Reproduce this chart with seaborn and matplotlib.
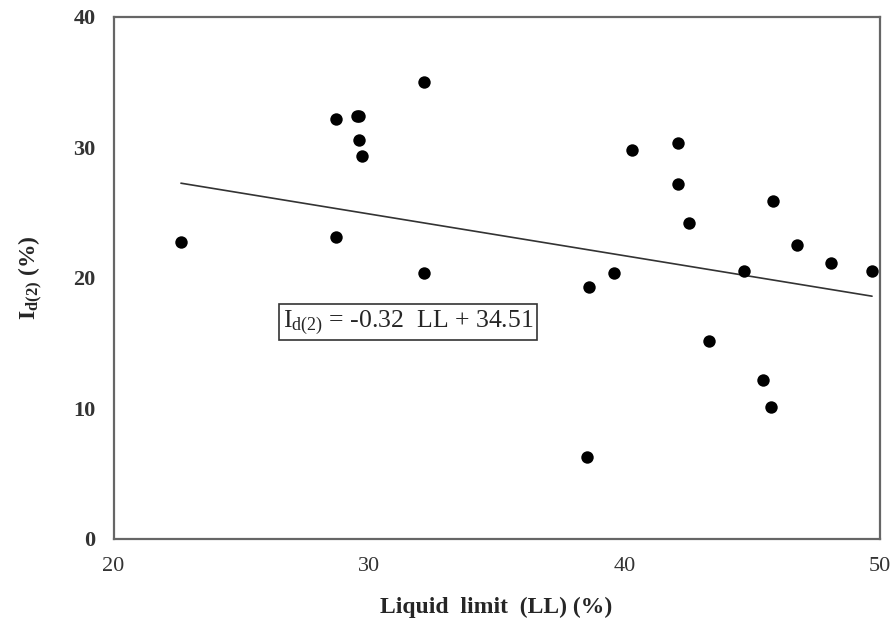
import numpy as np
import pandas as pd
import matplotlib
matplotlib.use('Agg')
import matplotlib.pyplot as plt
import seaborn as sns

# values
liquid_limit = [22.64, 28.72, 28.72, 29.52, 29.62, 29.61, 29.74, 32.14, 32.14,
                38.55, 38.60, 39.60, 40.32, 42.09, 42.09, 42.52, 43.30, 44.69,
                45.45, 45.75, 45.82, 46.78, 48.10, 49.70]
id2 = [22.76, 32.18, 23.12, 32.41, 32.41, 30.55, 29.33, 35.02, 20.38,
       6.28, 19.29, 20.41, 29.81, 30.32, 27.20, 24.24, 15.20, 20.51,
       12.22, 10.12, 25.88, 22.50, 21.13, 20.51]
slope = -0.32
intercept = 34.51
x_ticks = [20, 30, 40, 50]
y_ticks = [0, 10, 20, 30, 40]

sns.set_style('white')
plt.rcParams['font.family'] = ['Liberation Serif', 'DejaVu Serif']
plt.rcParams['mathtext.fontset'] = 'custom'
plt.rcParams['mathtext.rm'] = 'Liberation Serif'
plt.rcParams['mathtext.it'] = 'Liberation Serif:italic'
plt.rcParams['mathtext.bf'] = 'Liberation Serif:bold'

df = pd.DataFrame({'LL': liquid_limit, 'Id2': id2})
fit = pd.DataFrame({'LL': [min(liquid_limit), max(liquid_limit)]})
fit['Id2'] = slope * fit['LL'] + intercept

fig = plt.figure(figsize=(8.94, 6.25), dpi=100)
ax = fig.add_axes([0.127, 0.1376, 0.857, 0.8352])

sns.lineplot(data=fit, x='LL', y='Id2', color='#333333', linewidth=1.2, ax=ax)
sns.scatterplot(data=df, x='LL', y='Id2', color='black', s=80, edgecolor='black',
                linewidth=0, ax=ax, zorder=3)

ax.set_xlim(20, 50)
ax.set_ylim(0, 40)
ax.set_xticks(x_ticks)
ax.set_yticks(y_ticks)
ax.tick_params(length=0, labelsize=16, pad=13, labelcolor='#333333')
for lab in ax.get_yticklabels():
    lab.set_fontweight('bold')

for sp in ax.spines.values():
    sp.set_color('#666666')
    sp.set_linewidth(1.6)

ax.set_xlabel('Liquid  limit  (LL) (%)', fontsize=17, fontweight='bold', labelpad=15)
ax.set_ylabel(r'$\mathbf{I_{d(2)}}$ (%)', fontsize=17, fontweight='bold', labelpad=20)

ax.text(26.62, 16.6, r'$\mathregular{I_{d(2)}}$ = -0.32  LL + 34.51', fontsize=18.5,
        va='center', ha='left',
        bbox=dict(boxstyle='square,pad=0.15', facecolor='white', edgecolor='#333333', linewidth=1.2))

fig.savefig('out.png', dpi=100)
